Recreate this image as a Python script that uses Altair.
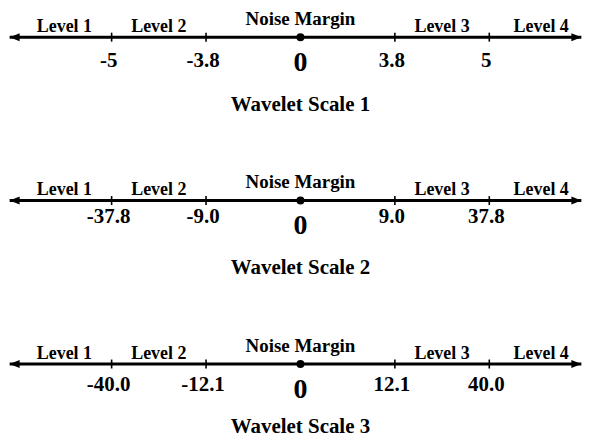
import altair as alt
import pandas as pd

# ---- data ----
level_names = ["Level 1", "Level 2", "Level 3", "Level 4"]
level_pos = [-2.5, -1.5, 1.5, 2.55]
tick_pos = [-2, -1, 1, 2]
tick_labels_1 = ["-5", "-3.8", "3.8", "5"]
tick_labels_2 = ["-37.8", "-9.0", "9.0", "37.8"]
tick_labels_3 = ["-40.0", "-12.1", "12.1", "40.0"]
scale_titles = ["Wavelet Scale 1", "Wavelet Scale 2", "Wavelet Scale 3"]
rows = [0, 1, 2]
center_label = "Noise Margin"
zero_label = "0"
line_ends = [-3.08, 2.975]

# ---- style ----
FONT = "Liberation Serif"
W, H = 575, 426
xscale = alt.Scale(domain=[-3.087, 2.982], nice=False, zero=False)
yscale = alt.Scale(domain=[-0.17378, 2.42378], nice=False, zero=False, reverse=True)
tick_dy = [29.5, 22.5, 27.5]
title_dy = [74, 74, 69.5]

X = lambda f: alt.X(f"{f}:Q", scale=xscale, axis=None)
Y = lambda f: alt.Y(f"{f}:Q", scale=yscale, axis=None)

layers = []
all_ticks = [tick_labels_1, tick_labels_2, tick_labels_3]
for r in rows:
    line_df = pd.DataFrame({"x": [line_ends[0]], "x2": [line_ends[1]], "row": [r]})
    layers.append(alt.Chart(line_df).mark_rule(color="black", strokeWidth=3).encode(
        x=X("x"), x2="x2", y=Y("row")))
    arrows_df = pd.DataFrame({"x": line_ends, "row": [r, r], "side": ["L", "R"]})
    layers.append(alt.Chart(arrows_df[arrows_df.side == "L"]).mark_point(
        shape="M 0 0 L 2.5 -1 L 2.5 1 Z", filled=True, color="black", opacity=1, size=64,
        strokeWidth=0).encode(x=X("x"), y=Y("row")))
    layers.append(alt.Chart(arrows_df[arrows_df.side == "R"]).mark_point(
        shape="M 0 0 L -2.5 -1 L -2.5 1 Z", filled=True, color="black", opacity=1, size=64,
        strokeWidth=0).encode(x=X("x"), y=Y("row")))
    ticks_df = pd.DataFrame({"x": tick_pos, "row": [r] * 4, "label": all_ticks[r]})
    layers.append(alt.Chart(ticks_df).mark_tick(
        orient="vertical", color="black", size=9, thickness=1.6, opacity=1).encode(
        x=X("x"), y=Y("row")))
    layers.append(alt.Chart(ticks_df).mark_text(
        font=FONT, fontWeight="bold", fontSize=21, color="black",
        baseline="alphabetic", align="center", dy=tick_dy[r], dx=-3).encode(
        x=X("x"), y=Y("row"), text="label:N"))
    lev_df = pd.DataFrame({"x": level_pos, "row": [r] * 4, "label": level_names})
    layers.append(alt.Chart(lev_df).mark_text(
        font=FONT, fontWeight="bold", fontSize=18, color="black",
        baseline="alphabetic", align="center", dy=-5.5).encode(
        x=X("x"), y=Y("row"), text="label:N"))
    c_df = pd.DataFrame({"x": [0], "row": [r], "label": [center_label],
                         "zero": [zero_label], "title": [scale_titles[r]]})
    layers.append(alt.Chart(c_df).mark_point(
        shape="circle", filled=True, color="black", opacity=1, size=64).encode(
        x=X("x"), y=Y("row")))
    layers.append(alt.Chart(c_df).mark_text(
        font=FONT, fontWeight="bold", fontSize=19, color="black",
        baseline="alphabetic", align="center", dy=-12.5).encode(
        x=X("x"), y=Y("row"), text="label:N"))
    layers.append(alt.Chart(c_df).mark_text(
        font=FONT, fontWeight="bold", fontSize=28, color="black",
        baseline="alphabetic", align="center", dy=34).encode(
        x=X("x"), y=Y("row"), text="zero:N"))
    layers.append(alt.Chart(c_df).mark_text(
        font=FONT, fontWeight="bold", fontSize=21, color="black",
        baseline="alphabetic", align="center", dy=title_dy[r]).encode(
        x=X("x"), y=Y("row"), text="title:N"))

chart = alt.layer(*layers).properties(
    width=W, height=H, padding=0, background="white"
).configure_view(stroke=None)

chart.save("out.html", embed_options={"renderer": "svg", "actions": False})
